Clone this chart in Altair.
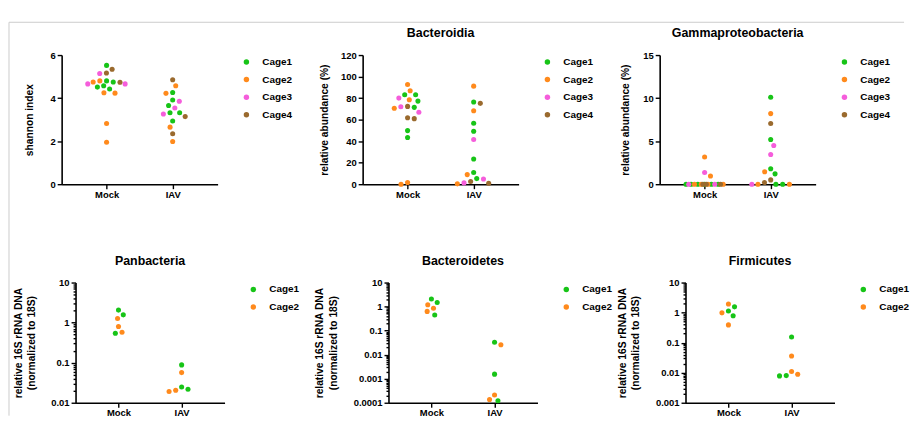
import math
import pandas as pd
import altair as alt

FONT = "Liberation Sans"
CAGE_COLORS = {"Cage1": "#17c417", "Cage2": "#ff8a1c", "Cage3": "#f55ddb", "Cage4": "#9a6a2e"}
CAGES4 = ["Cage1", "Cage2", "Cage3", "Cage4"]
CAGES2 = ["Cage1", "Cage2"]
GROUPS = ["Mock", "IAV"]

# ---- values ----
shannon_mock = {"Cage1": [5.52, 4.75, 4.80, 4.57, 4.51, 4.42],
                "Cage2": [4.80, 4.75, 4.23, 4.25, 2.82, 1.95],
                "Cage3": [5.14, 4.66, 4.66],
                "Cage4": [5.34, 5.17, 4.74]}
shannon_iav = {"Cage1": [4.26, 3.91, 3.66, 3.32, 3.32, 2.94],
               "Cage2": [4.57, 4.22, 2.65, 1.98],
               "Cage3": [3.85, 3.54, 3.26],
               "Cage4": [4.85, 3.14, 2.34]}

bacteroidia_mock = {"Cage1": [83.1, 83.1, 77.2, 71.4, 49.8, 43.4],
                    "Cage2": [92.6, 86.8, 78.5, 70.5, 0.0, 1.5],
                    "Cage3": [80.0, 72.0, 66.8],
                    "Cage4": [72.3, 61.8, 60.9]}
bacteroidia_iav = {"Cage1": [76.3, 56.6, 49.2, 23.4, 10.8, 5.2],
                   "Cage2": [91.1, 68.3, 8.9, 0.3],
                   "Cage3": [41.5, 4.9, 1.2],
                   "Cage4": [75.1, 2.5, 0.9]}

gamma_mock = {"Cage1": [0, 0, 0, 0, 0, 0],
              "Cage2": [3.15, 0.96, 0, 0, 0, 0],
              "Cage3": [1.35, 0, 0],
              "Cage4": [0, 0, 0]}
gamma_iav = {"Cage1": [10.1, 5.2, 1.8, 1.2, 0, 0],
             "Cage2": [8.2, 1.45, 0, 0],
             "Cage3": [4.5, 3.45, 0],
             "Cage4": [7.05, 0.5, 0.2]}

panbac_mock = {"Cage1": [2.05, 1.56, 0.545], "Cage2": [1.27, 0.80, 0.575]}
panbac_iav = {"Cage1": [0.088, 0.0247, 0.0217], "Cage2": [0.0565, 0.0205, 0.019]}

bacteroidetes_mock = {"Cage1": [2.07, 1.48, 0.45], "Cage2": [1.2, 0.85, 0.63]}
bacteroidetes_iav = {"Cage1": [0.0326, 0.00155, 0.00012], "Cage2": [0.026, 0.00021, 0.000136]}

firm_mock = {"Cage1": [1.55, 1.13, 0.78], "Cage2": [1.94, 0.98, 0.39]}
firm_iav = {"Cage1": [0.155, 0.008, 0.00783], "Cage2": [0.0357, 0.011, 0.00885]}

QPCR_TITLE = ["relative 16S rRNA DNA", "(normalized to 18S)"]
XMIN, XMAX = 0.32, 2.68
DOT = 26          # circle area
SWARM_D = 6.8     # collision distance (px)
SWARM_W = 19.0    # max half-width (px)


def swarm(ypx):
    """Simple beeswarm: returns horizontal pixel offsets."""
    n = len(ypx)
    order = sorted(range(n), key=lambda i: -ypx[i])
    placed, xs = [], [0.0] * n
    toggle = True
    for i in order:
        y = ypx[i]
        k = 1.0
        chosen = 0.0
        while k > 0.04:
            dd = SWARM_D * k
            neigh = [(px, py) for px, py in placed if abs(py - y) < dd]
            cands = [0.0]
            for px, py in neigh:
                dx = math.sqrt(dd * dd - (py - y) ** 2)
                cands += [px + dx, px - dx]
            valid = [c for c in cands if abs(c) <= SWARM_W + 1e-9 and
                     all((c - px) ** 2 + (y - py) ** 2 >= dd * dd - 1e-6 for px, py in neigh)]
            if valid:
                valid.sort(key=lambda c: (round(abs(c), 3), (c < 0) if toggle else (c > 0)))
                chosen = valid[0]
                break
            k -= 0.05
        if abs(chosen) > 1e-6:
            toggle = not toggle
        xs[i] = chosen
        placed.append((chosen, y))
    return xs


def build_df(mock, iav, cages, ydomain, height, width, log):
    pxu = width / (XMAX - XMIN)
    rows = []
    for gi, (g, d) in enumerate([("Mock", mock), ("IAV", iav)], start=1):
        vals, cs = [], []
        for c in cages:
            for v in d[c]:
                vals.append(v)
                cs.append(c)
        if log:
            lo, hi = math.log10(ydomain[0]), math.log10(ydomain[1])
            ypx = [(math.log10(v) - lo) / (hi - lo) * height for v in vals]
        else:
            ypx = [(v - ydomain[0]) / (ydomain[1] - ydomain[0]) * height for v in vals]
        offs = swarm(ypx)
        for v, c, o in zip(vals, cs, offs):
            rows.append({"group": g, "cage": c, "value": v, "xpos": gi + o / pxu})
    return pd.DataFrame(rows)


MAJOR_EXPR = "abs(log(datum.value)/LN10 - round(log(datum.value)/LN10)) < 1e-6"


def panel(mock, iav, cages, ydomain, yvalues, ytitle, width, height, title=None,
          log=False, title_pad=12, extra=None):
    df = build_df(mock, iav, cages, ydomain, height, width, log)
    if log:
        lo, hi = int(round(math.log10(ydomain[0]))), int(round(math.log10(ydomain[1])))
        vals = []
        for e in range(lo, hi + 1):
            vals.append(10.0 ** e)
            if e < hi:
                vals += [m * 10.0 ** e for m in range(2, 10)]
        yaxis = alt.Axis(values=vals, title=ytitle, titlePadding=title_pad,
                         labelExpr=f"({MAJOR_EXPR}) ? format(datum.value, '~g') : ''",
                         tickSize={"condition": {"test": MAJOR_EXPR, "value": 4.5}, "value": 2.5},
                         labelOverlap=False, labelFlush=False, titleLineHeight=13.5)
        yscale = alt.Scale(type="log", domain=ydomain, nice=False)
    else:
        yaxis = alt.Axis(values=yvalues, title=ytitle, titlePadding=title_pad,
                         labelOverlap=False, labelFlush=False, tickSize=4.5)
        yscale = alt.Scale(domain=ydomain, nice=False, zero=False)
    colors = [CAGE_COLORS[c] for c in cages]
    pts = alt.Chart(df).mark_circle(size=DOT, opacity=1, strokeWidth=0).encode(
        x=alt.X("xpos:Q", scale=alt.Scale(domain=[XMIN, XMAX], nice=False, zero=False),
                axis=alt.Axis(values=[1, 2], title=None, labelPadding=0.5,
                              labelExpr="datum.value == 1 ? 'Mock' : 'IAV'",
                              tickSize=4.5, labelFlush=False, labelOverlap=False)),
        y=alt.Y("value:Q", scale=yscale, axis=yaxis),
        color=alt.Color("cage:N", scale=alt.Scale(domain=cages, range=colors),
                        legend=alt.Legend(title=None, orient="right", offset=22, padding=2,
                                          symbolType="circle", symbolSize=30,
                                          symbolStrokeWidth=0, labelOffset=11,
                                          rowPadding=7.7)),
    )
    layers = [pts]
    if extra is not None:
        layers = extra + layers
    ch = alt.layer(*layers).properties(width=width, height=height)
    if title:
        ch = ch.properties(title=alt.TitleParams(title))
    return ch


# frame (light grey border of the figure region), drawn relative to panel 1
frame_df = pd.DataFrame({"k": [0]})
frame_top = alt.Chart(frame_df).mark_rule(color="#cccccc", strokeWidth=1).encode(
    x=alt.value(-53), x2=alt.value(848), y=alt.value(-33))
frame_left = alt.Chart(frame_df).mark_rule(color="#cccccc", strokeWidth=1).encode(
    x=alt.value(-53), y=alt.value(-33), y2=alt.value(363))

TW = 157
TH = 130
BW = 150
BH = 121

p1 = panel(shannon_mock, shannon_iav, CAGES4, [0, 6], [0, 2, 4, 6], "shannon index",
           TW, TH, title=None, title_pad=16, extra=[frame_top, frame_left])
p2 = panel(bacteroidia_mock, bacteroidia_iav, CAGES4, [0, 120], list(range(0, 121, 20)),
           "relative abundance (%)", TW, TH, title="Bacteroidia", title_pad=11)
p3 = panel(gamma_mock, gamma_iav, CAGES4, [0, 15], [0, 5, 10, 15],
           "relative abundance (%)", TW, TH, title="Gammaproteobacteria", title_pad=12)
p4 = panel(panbac_mock, panbac_iav, CAGES2, [0.01, 10], None, QPCR_TITLE,
           BW, BH, title="Panbacteria", log=True, title_pad=14)
p5 = panel(bacteroidetes_mock, bacteroidetes_iav, CAGES2, [0.0001, 10], None, QPCR_TITLE,
           BW, BH, title="Bacteroidetes", log=True, title_pad=15)
p6 = panel(firm_mock, firm_iav, CAGES2, [0.001, 10], None, QPCR_TITLE,
           BW, BH, title="Firmicutes", log=True, title_pad=15)

spacer = alt.Chart(frame_df).mark_point(opacity=0).encode(
    x=alt.X("k:Q", axis=None), y=alt.Y("k:Q", axis=None)).properties(width=1, height=1)


def indep(c):
    return c.resolve_scale(x="independent", y="independent", color="independent") \
            .resolve_legend(color="independent").resolve_axis(x="independent", y="independent")


# In "flush" layout a nested concat counts as zero-sized (a leaf chart counts its
# own width), so spacing values below are tuned to place each plot origin.
top_right = indep(alt.hconcat(p2, p3, spacing=142, bounds="flush"))
top = indep(alt.hconcat(p1, top_right, spacing=146, bounds="flush"))
bot_left = indep(alt.hconcat(spacer, p4, spacing=13, bounds="flush"))
bot_right = indep(alt.hconcat(p5, p6, spacing=149, bounds="flush"))
bottom = indep(alt.hconcat(bot_left, bot_right, spacing=329, bounds="flush"))

chart = indep(alt.vconcat(top, bottom, spacing=229, bounds="flush")).properties(
    padding={"left": 0, "top": 12, "right": 0, "bottom": 0}
).configure_view(stroke=None).configure_axis(
    grid=False, domainColor="black", domainWidth=1.6, tickColor="black", tickWidth=1.4,
    labelFont=FONT, labelFontSize=9.5, labelFontWeight="bold", labelColor="black",
    labelPadding=2, titleFont=FONT, titleFontSize=10.3, titleFontWeight="bold",
    titleColor="black"
).configure_legend(
    labelFont=FONT, labelFontSize=10, labelFontWeight="bold", labelColor="black"
).configure_title(
    font=FONT, fontSize=12.5, fontWeight="bold", color="black", anchor="middle", offset=10.5
)

chart.save("out.html", embed_options={"renderer": "svg", "actions": False})
